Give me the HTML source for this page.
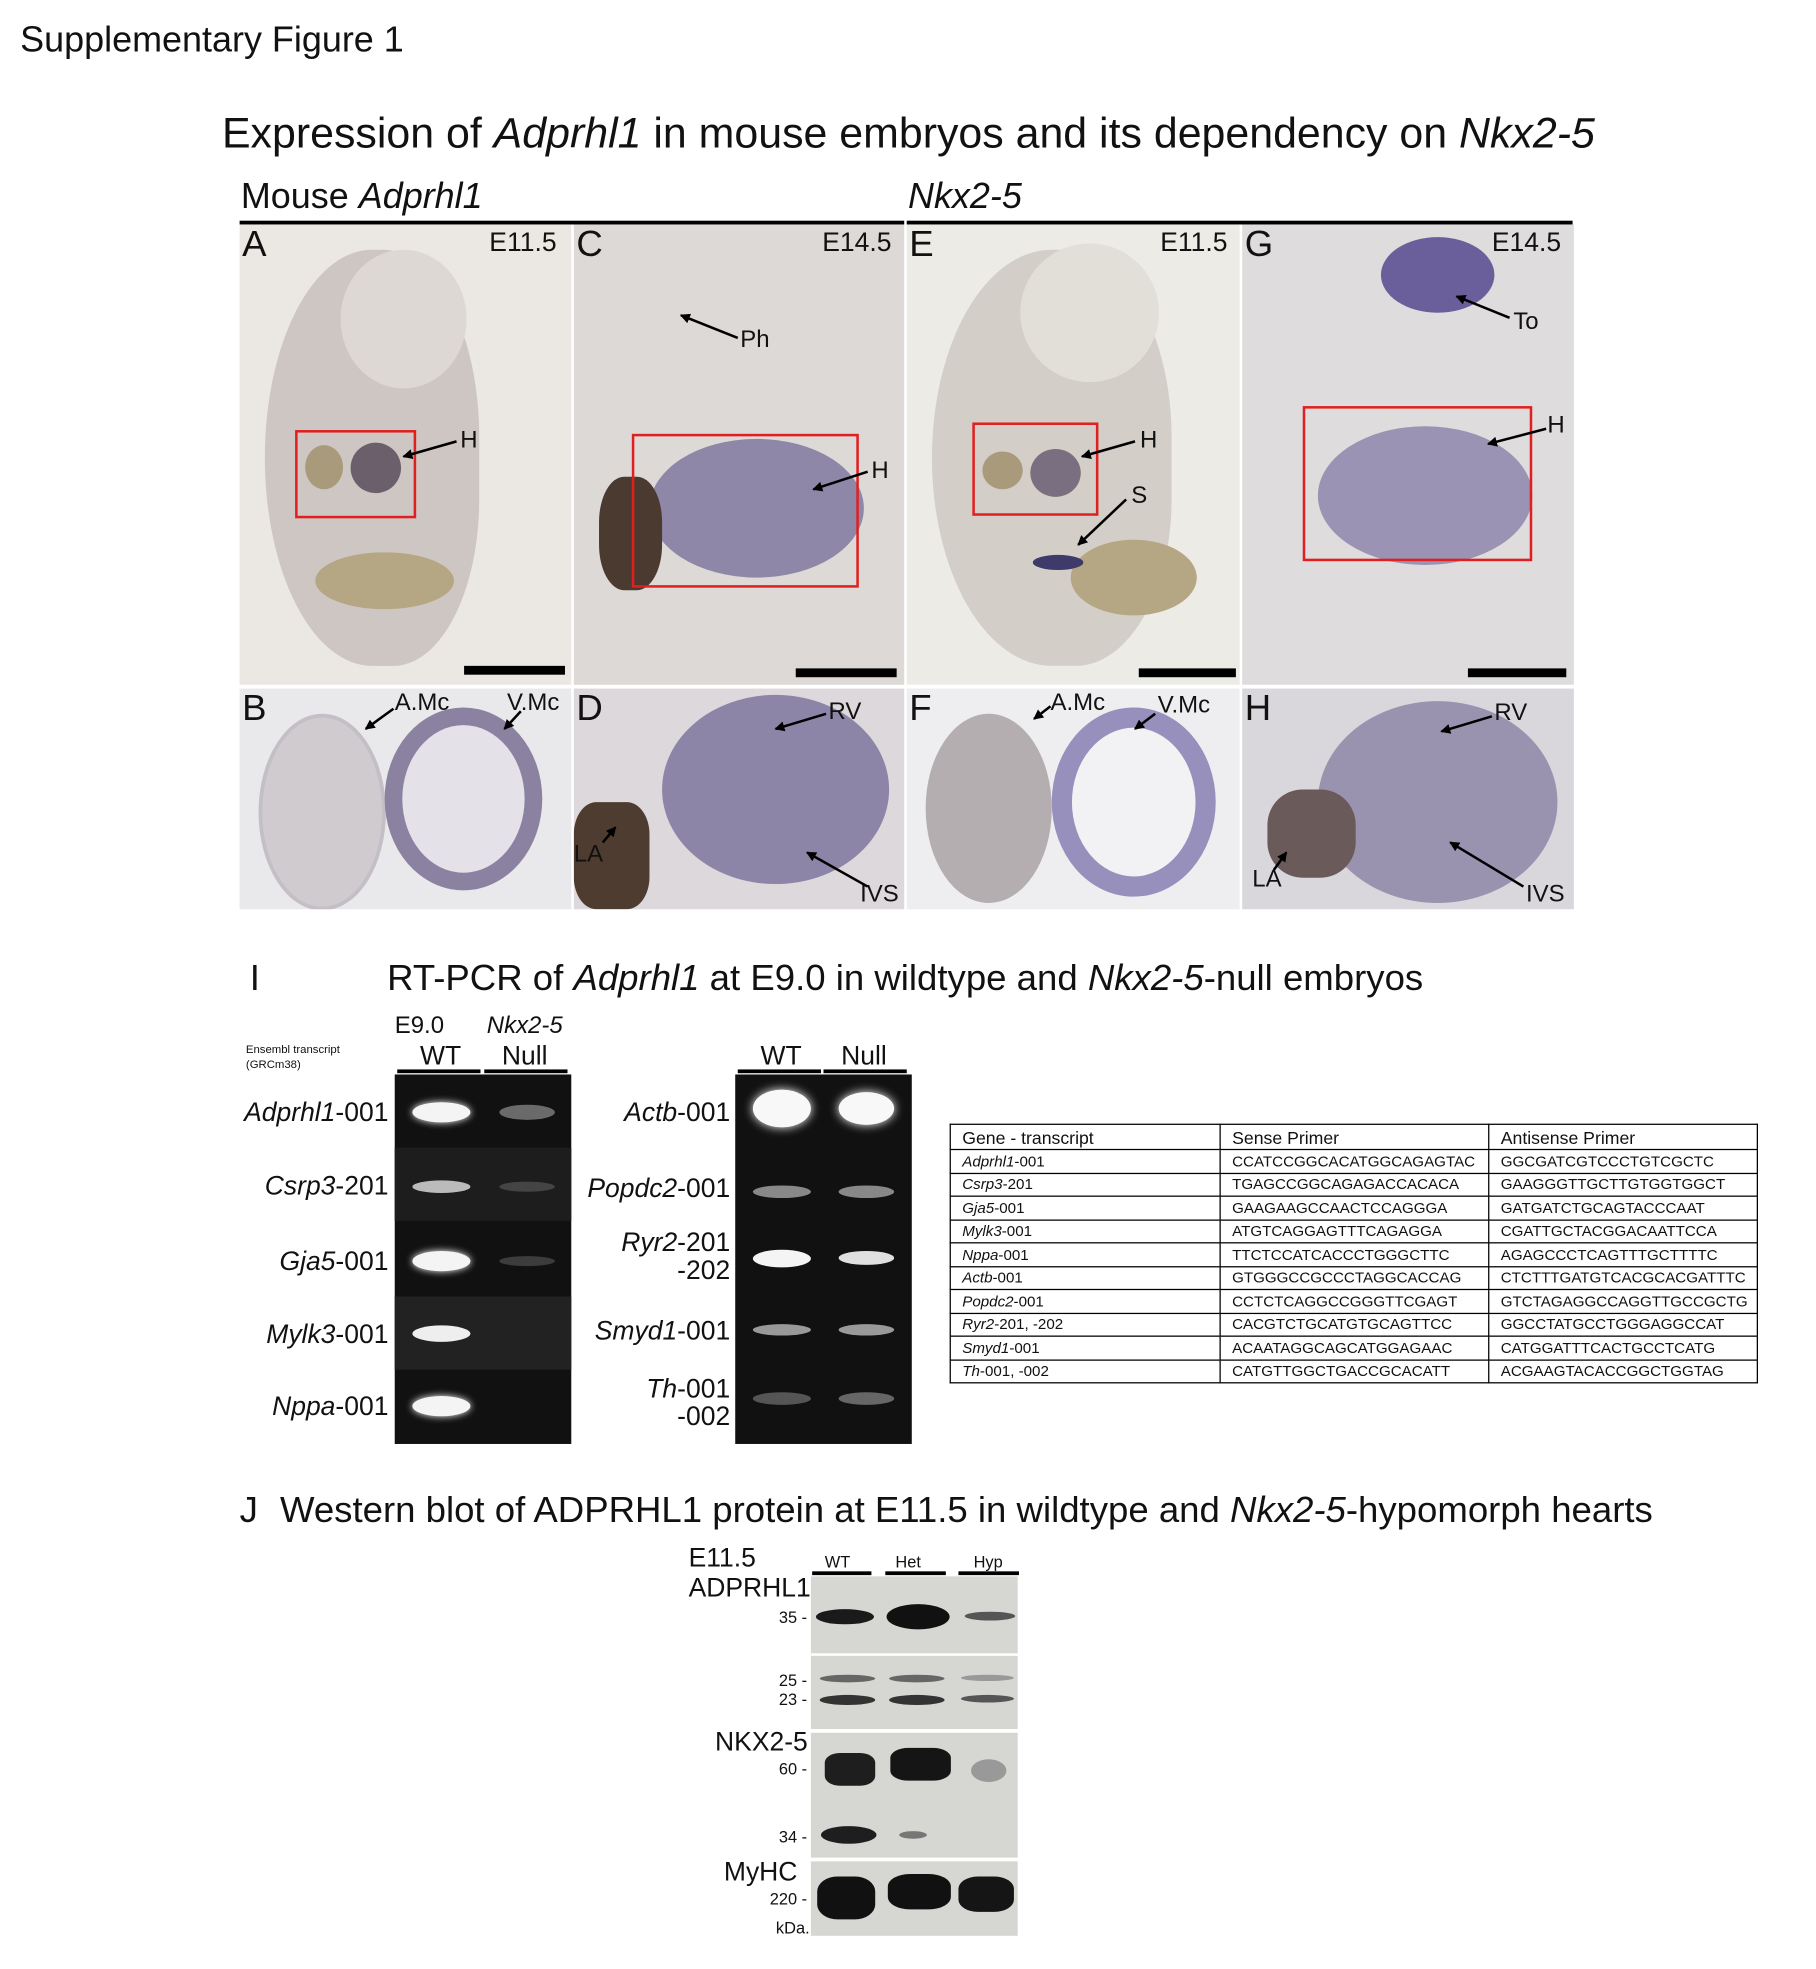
<!DOCTYPE html>
<html><head><meta charset="utf-8">
<style>
html,body{margin:0;padding:0;background:#fff;}
body{width:1816px;height:1968px;overflow:hidden;position:relative;}
#s{position:absolute;left:0;top:0;width:1440px;height:1561px;transform:scale(1.26111);transform-origin:0 0;font-family:"Liberation Sans",sans-serif;color:#111;}
.a{position:absolute;white-space:nowrap;}
.p{position:absolute;overflow:hidden;}
.lbl{position:absolute;font-size:29px;line-height:1;}
.stg{position:absolute;font-size:21px;line-height:1;}
.rb{position:absolute;border:2px solid #e02020;}
.band{position:absolute;border-radius:50%;}
.gl{position:absolute;font-size:21px;text-align:right;line-height:22px;}
table{border-collapse:collapse;}
td{border:1.5px solid #000;padding:0 0 0 9px;height:17.5px;font-size:12px;line-height:14px;font-family:"Liberation Sans Narrow","Liberation Sans",sans-serif;}
tr:first-child td{font-size:14px;height:19px;}
.wb{position:absolute;left:643px;width:164px;background:#d6d6d2;}
.kd{position:absolute;font-size:13px;text-align:right;width:60px;}
</style></head><body><div id="s">
<div class="a" style="left:16px;top:16px;font-size:28.5px;">Supplementary Figure 1</div>
<div class="a" style="left:176px;top:87px;font-size:34px;">Expression of <i>Adprhl1</i> in mouse embryos and its dependency on <i>Nkx2-5</i></div>
<div class="a" style="left:191px;top:140px;font-size:28.5px;">Mouse <i>Adprhl1</i></div>
<div class="a" style="left:720px;top:140px;font-size:28.5px;"><i>Nkx2-5</i></div>
<div class="a" style="left:190px;top:175px;width:527px;height:3px;background:#000"></div>
<div class="a" style="left:719px;top:175px;width:528px;height:3px;background:#000"></div>

<!-- top panels -->
<div class="p" style="left:190px;top:178px;width:263px;height:365px;background:#ebe8e3;">
 <div class="a" style="left:20px;top:20px;width:170px;height:330px;border-radius:50% 45% 40% 50%;background:#cdc6c2;"></div>
 <div class="a" style="left:80px;top:20px;width:100px;height:110px;border-radius:50%;background:#ddd8d3;"></div>
 <div class="a" style="left:60px;top:260px;width:110px;height:45px;border-radius:50%;background:#b5a684;"></div>
 <div class="a" style="left:52px;top:175px;width:30px;height:35px;border-radius:50%;background:#a89a7a;"></div>
 <div class="a" style="left:88px;top:173px;width:40px;height:40px;border-radius:50%;background:#6c5f6c;"></div>
 <div class="rb" style="left:44px;top:163px;width:92px;height:66px;"></div>
</div>
<div class="p" style="left:455px;top:178px;width:262px;height:365px;background:#ddd9d6;">
 <div class="a" style="left:60px;top:170px;width:170px;height:110px;border-radius:50%;background:#8e87a8;"></div>
 <div class="a" style="left:20px;top:200px;width:50px;height:90px;border-radius:40%;background:#4a3a30;"></div>
 <div class="rb" style="left:46px;top:166px;width:176px;height:118px;"></div>
</div>
<div class="p" style="left:719px;top:178px;width:264px;height:365px;background:#ecebe6;">
 <div class="a" style="left:20px;top:20px;width:190px;height:330px;border-radius:50% 45% 40% 50%;background:#d3cec8;"></div>
 <div class="a" style="left:90px;top:15px;width:110px;height:110px;border-radius:50%;background:#e2dfd9;"></div>
 <div class="a" style="left:130px;top:250px;width:100px;height:60px;border-radius:50%;background:#b5a684;"></div>
 <div class="a" style="left:60px;top:180px;width:32px;height:30px;border-radius:50%;background:#a89a7a;"></div>
 <div class="a" style="left:98px;top:178px;width:40px;height:38px;border-radius:50%;background:#7a6f80;"></div>
 <div class="a" style="left:100px;top:262px;width:40px;height:12px;border-radius:50%;background:#3e3a6a;"></div>
 <div class="rb" style="left:52px;top:157px;width:96px;height:70px;"></div>
</div>
<div class="p" style="left:985px;top:178px;width:263px;height:365px;background:#dedcdc;">
 <div class="a" style="left:110px;top:10px;width:90px;height:60px;border-radius:50%;background:#6a5f9a;"></div>
 <div class="a" style="left:60px;top:160px;width:170px;height:110px;border-radius:50%;background:#9a93b4;"></div>
 <div class="rb" style="left:48px;top:144px;width:178px;height:119px;"></div>
</div>
<div class="lbl" style="left:192px;top:180px;">A</div><div class="stg" style="left:388px;top:182px;">E11.5</div>
<div class="lbl" style="left:457px;top:180px;">C</div><div class="stg" style="left:652px;top:182px;">E14.5</div>
<div class="lbl" style="left:721px;top:180px;">E</div><div class="stg" style="left:920px;top:182px;">E11.5</div>
<div class="lbl" style="left:987px;top:180px;">G</div><div class="stg" style="left:1183px;top:182px;">E14.5</div>
<div class="a" style="left:368px;top:528px;width:80px;height:7px;background:#000"></div>
<div class="a" style="left:631px;top:530px;width:80px;height:7px;background:#000"></div>
<div class="a" style="left:903px;top:530px;width:77px;height:7px;background:#000"></div>
<div class="a" style="left:1164px;top:530px;width:78px;height:7px;background:#000"></div>
<div class="stg" style="left:365px;top:340px;font-size:19px">H</div>
<div class="stg" style="left:587px;top:260px;font-size:19px">Ph</div>
<div class="stg" style="left:691px;top:364px;font-size:19px">H</div>
<div class="stg" style="left:904px;top:340px;font-size:19px">H</div>
<div class="stg" style="left:897px;top:384px;font-size:19px">S</div>
<div class="stg" style="left:1200px;top:246px;font-size:19px">To</div>
<div class="stg" style="left:1227px;top:328px;font-size:19px">H</div>

<!-- bottom panels -->
<div class="p" style="left:190px;top:546px;width:263px;height:175px;background:#e9e8ea;">
 <div class="a" style="left:15px;top:20px;width:95px;height:150px;border-radius:50%;border:3px solid #c4bfc6;background:#cfcbcf;"></div>
 <div class="a" style="left:115px;top:15px;width:125px;height:145px;border-radius:50%;border:14px solid #8b82a2;background:#e4e2e8;box-sizing:border-box;"></div>
</div>
<div class="p" style="left:455px;top:546px;width:262px;height:175px;background:#dcd8db;">
 <div class="a" style="left:70px;top:5px;width:180px;height:150px;border-radius:50%;background:#8c85a8;"></div>
 <div class="a" style="left:0px;top:90px;width:60px;height:85px;border-radius:30%;background:#4e3c30;"></div>
</div>
<div class="p" style="left:719px;top:546px;width:264px;height:175px;background:#eeedf0;">
 <div class="a" style="left:15px;top:20px;width:100px;height:150px;border-radius:50%;background:#b5aeb0;"></div>
 <div class="a" style="left:115px;top:15px;width:130px;height:150px;border-radius:50%;border:16px solid #9790bc;background:#f2f1f4;box-sizing:border-box;"></div>
</div>
<div class="p" style="left:985px;top:546px;width:263px;height:175px;background:#d9d7dc;">
 <div class="a" style="left:60px;top:10px;width:190px;height:160px;border-radius:50%;background:#9a93b0;"></div>
 <div class="a" style="left:20px;top:80px;width:70px;height:70px;border-radius:40%;background:#6a5a5a;"></div>
</div>
<div class="lbl" style="left:192px;top:548px;">B</div>
<div class="lbl" style="left:457px;top:548px;">D</div>
<div class="lbl" style="left:721px;top:548px;">F</div>
<div class="lbl" style="left:987px;top:548px;">H</div>
<div class="stg" style="left:313px;top:548px;font-size:19px">A.Mc</div>
<div class="stg" style="left:402px;top:548px;font-size:19px">V.Mc</div>
<div class="stg" style="left:657px;top:555px;font-size:19px">RV</div>
<div class="stg" style="left:455px;top:668px;font-size:19px">LA</div>
<div class="stg" style="left:682px;top:700px;font-size:19px">IVS</div>
<div class="stg" style="left:833px;top:548px;font-size:19px">A.Mc</div>
<div class="stg" style="left:918px;top:550px;font-size:19px">V.Mc</div>
<div class="stg" style="left:1185px;top:556px;font-size:19px">RV</div>
<div class="stg" style="left:993px;top:688px;font-size:19px">LA</div>
<div class="stg" style="left:1210px;top:700px;font-size:19px">IVS</div>

<svg class="a" style="left:0;top:0" width="1440" height="740">
<defs><marker id="m" markerWidth="8" markerHeight="8" refX="7" refY="4" orient="auto" markerUnits="userSpaceOnUse"><path d="M0,0 L8,4 L0,8 Z" fill="#000"/></marker></defs>
<g stroke="#000" stroke-width="2" marker-end="url(#m)">
<line x1="362" y1="350" x2="320" y2="362"/>
<line x1="585" y1="268" x2="540" y2="250"/>
<line x1="688" y1="374" x2="645" y2="388"/>
<line x1="900" y1="350" x2="858" y2="362"/>
<line x1="893" y1="396" x2="855" y2="432"/>
<line x1="1197" y1="252" x2="1155" y2="235"/>
<line x1="1226" y1="340" x2="1180" y2="352"/>
<line x1="312" y1="562" x2="290" y2="578"/>
<line x1="413" y1="564" x2="400" y2="578"/>
<line x1="655" y1="566" x2="615" y2="578"/>
<line x1="478" y1="668" x2="488" y2="656"/>
<line x1="688" y1="703" x2="640" y2="676"/>
<line x1="833" y1="560" x2="820" y2="570"/>
<line x1="916" y1="566" x2="900" y2="578"/>
<line x1="1183" y1="568" x2="1143" y2="580"/>
<line x1="1010" y1="690" x2="1020" y2="676"/>
<line x1="1208" y1="703" x2="1150" y2="668"/>
</g></svg>

<!-- I -->
<div class="a" style="left:198px;top:760px;font-size:29px;">I</div>
<div class="a" style="left:307px;top:760px;font-size:29px;">RT-PCR of <i>Adprhl1</i> at E9.0 in wildtype and <i>Nkx2-5</i>-null embryos</div>
<div class="a" style="left:195px;top:826px;font-size:9px;line-height:12px;">Ensembl transcript<br>(GRCm38)</div>
<div class="a" style="left:313px;top:803px;font-size:19px;">E9.0</div>
<div class="a" style="left:386px;top:803px;font-size:19px;"><i>Nkx2-5</i></div>
<div class="a" style="left:333px;top:826px;font-size:21px;">WT</div>
<div class="a" style="left:398px;top:826px;font-size:21px;">Null</div>
<div class="a" style="left:315px;top:848px;width:66px;height:3px;background:#000"></div>
<div class="a" style="left:384px;top:848px;width:66px;height:3px;background:#000"></div>
<div class="a" style="left:603px;top:826px;font-size:21px;">WT</div>
<div class="a" style="left:667px;top:826px;font-size:21px;">Null</div>
<div class="a" style="left:585px;top:848px;width:66px;height:3px;background:#000"></div>
<div class="a" style="left:653px;top:848px;width:66px;height:3px;background:#000"></div>

<div class="a" style="left:313px;top:852px;width:140px;height:293px;background:#111;"></div>
<div class="a" style="left:313px;top:910px;width:140px;height:58px;background:#1d1d1d;"></div>
<div class="a" style="left:313px;top:1028px;width:140px;height:58px;background:#222;"></div>
<div class="band" style="left:327px;top:874px;width:46px;height:16px;background:#f4f4f4;box-shadow:0 0 6px #fff"></div>
<div class="band" style="left:396px;top:876px;width:44px;height:12px;background:#6a6a6a;"></div>
<div class="band" style="left:327px;top:936px;width:46px;height:10px;background:#bbb;"></div>
<div class="band" style="left:396px;top:937px;width:44px;height:8px;background:#444;"></div>
<div class="band" style="left:327px;top:992px;width:46px;height:16px;background:#f4f4f4;box-shadow:0 0 6px #fff"></div>
<div class="band" style="left:396px;top:996px;width:44px;height:8px;background:#3c3c3c;"></div>
<div class="band" style="left:327px;top:1051px;width:46px;height:13px;background:#eee;"></div>
<div class="band" style="left:327px;top:1107px;width:46px;height:16px;background:#f4f4f4;box-shadow:0 0 6px #fff"></div>
<div class="gl" style="left:150px;width:158px;top:872px;"><i>Adprhl1</i>-001</div>
<div class="gl" style="left:150px;width:158px;top:930px;"><i>Csrp3</i>-201</div>
<div class="gl" style="left:150px;width:158px;top:990px;"><i>Gja5</i>-001</div>
<div class="gl" style="left:150px;width:158px;top:1048px;"><i>Mylk3</i>-001</div>
<div class="gl" style="left:150px;width:158px;top:1105px;"><i>Nppa</i>-001</div>

<div class="a" style="left:583px;top:852px;width:140px;height:293px;background:#111;"></div>
<div class="band" style="left:597px;top:864px;width:46px;height:30px;background:#f8f8f8;box-shadow:0 0 8px #fff"></div>
<div class="band" style="left:665px;top:866px;width:44px;height:26px;background:#f8f8f8;box-shadow:0 0 8px #fff"></div>
<div class="band" style="left:597px;top:940px;width:46px;height:10px;background:#888;"></div>
<div class="band" style="left:665px;top:940px;width:44px;height:10px;background:#888;"></div>
<div class="band" style="left:597px;top:991px;width:46px;height:14px;background:#f4f4f4;"></div>
<div class="band" style="left:665px;top:992px;width:44px;height:11px;background:#e0e0e0;"></div>
<div class="band" style="left:597px;top:1050px;width:46px;height:9px;background:#999;"></div>
<div class="band" style="left:665px;top:1050px;width:44px;height:9px;background:#999;"></div>
<div class="band" style="left:597px;top:1104px;width:46px;height:10px;background:#555;"></div>
<div class="band" style="left:665px;top:1104px;width:44px;height:10px;background:#666;"></div>
<div class="gl" style="left:430px;width:149px;top:872px;"><i>Actb</i>-001</div>
<div class="gl" style="left:430px;width:149px;top:932px;"><i>Popdc2</i>-001</div>
<div class="gl" style="left:430px;width:149px;top:975px;"><i>Ryr2</i>-201<br>-202</div>
<div class="gl" style="left:430px;width:149px;top:1045px;"><i>Smyd1</i>-001</div>
<div class="gl" style="left:430px;width:149px;top:1091px;"><i>Th</i>-001<br>-002</div>

<table class="a" style="left:753px;top:891px;width:641px;">
<tr><td style="width:204px">Gene - transcript</td><td style="width:203px">Sense Primer</td><td>Antisense Primer</td></tr>
<tr><td><i>Adprhl1</i>-001</td><td>CCATCCGGCACATGGCAGAGTAC</td><td>GGCGATCGTCCCTGTCGCTC</td></tr>
<tr><td><i>Csrp3</i>-201</td><td>TGAGCCGGCAGAGACCACACA</td><td>GAAGGGTTGCTTGTGGTGGCT</td></tr>
<tr><td><i>Gja5</i>-001</td><td>GAAGAAGCCAACTCCAGGGA</td><td>GATGATCTGCAGTACCCAAT</td></tr>
<tr><td><i>Mylk3</i>-001</td><td>ATGTCAGGAGTTTCAGAGGA</td><td>CGATTGCTACGGACAATTCCA</td></tr>
<tr><td><i>Nppa</i>-001</td><td>TTCTCCATCACCCTGGGCTTC</td><td>AGAGCCCTCAGTTTGCTTTTC</td></tr>
<tr><td><i>Actb</i>-001</td><td>GTGGGCCGCCCTAGGCACCAG</td><td>CTCTTTGATGTCACGCACGATTTC</td></tr>
<tr><td><i>Popdc2</i>-001</td><td>CCTCTCAGGCCGGGTTCGAGT</td><td>GTCTAGAGGCCAGGTTGCCGCTG</td></tr>
<tr><td><i>Ryr2</i>-201, -202</td><td>CACGTCTGCATGTGCAGTTCC</td><td>GGCCTATGCCTGGGAGGCCAT</td></tr>
<tr><td><i>Smyd1</i>-001</td><td>ACAATAGGCAGCATGGAGAAC</td><td>CATGGATTTCACTGCCTCATG</td></tr>
<tr><td><i>Th</i>-001, -002</td><td>CATGTTGGCTGACCGCACATT</td><td>ACGAAGTACACCGGCTGGTAG</td></tr>
</table>

<!-- J -->
<div class="a" style="left:190px;top:1182px;font-size:29px;">J</div>
<div class="a" style="left:222px;top:1182px;font-size:29px;">Western blot of ADPRHL1 protein at E11.5 in wildtype and <i>Nkx2-5</i>-hypomorph hearts</div>
<div class="a" style="left:546px;top:1224px;font-size:21px;">E11.5</div>
<div class="a" style="left:546px;top:1248px;font-size:21px;">ADPRHL1</div>
<div class="a" style="left:654px;top:1231px;font-size:13px;">WT</div>
<div class="a" style="left:710px;top:1231px;font-size:13px;">Het</div>
<div class="a" style="left:772px;top:1231px;font-size:13px;">Hyp</div>
<div class="a" style="left:644px;top:1246px;width:47px;height:3px;background:#000"></div>
<div class="a" style="left:702px;top:1246px;width:48px;height:3px;background:#000"></div>
<div class="a" style="left:760px;top:1246px;width:48px;height:3px;background:#000"></div>
<div class="wb" style="top:1250px;height:61px;"></div>
<div class="wb" style="top:1313px;height:58px;"></div>
<div class="wb" style="top:1374px;height:99px;"></div>
<div class="wb" style="top:1476px;height:59px;"></div>
<div class="band" style="left:647px;top:1276px;width:46px;height:12px;background:#1a1a1a;"></div>
<div class="band" style="left:703px;top:1272px;width:50px;height:20px;background:#111;"></div>
<div class="band" style="left:765px;top:1278px;width:40px;height:7px;background:#555;"></div>
<div class="band" style="left:650px;top:1328px;width:44px;height:6px;background:#666;"></div>
<div class="band" style="left:705px;top:1328px;width:44px;height:6px;background:#666;"></div>
<div class="band" style="left:762px;top:1328px;width:42px;height:5px;background:#999;"></div>
<div class="band" style="left:650px;top:1344px;width:44px;height:8px;background:#333;"></div>
<div class="band" style="left:705px;top:1344px;width:44px;height:8px;background:#333;"></div>
<div class="band" style="left:762px;top:1344px;width:42px;height:6px;background:#555;"></div>
<div class="band" style="left:654px;top:1390px;width:40px;height:26px;background:#1e1e1e;border-radius:30%"></div>
<div class="band" style="left:706px;top:1386px;width:48px;height:26px;background:#151515;border-radius:30%"></div>
<div class="band" style="left:770px;top:1395px;width:28px;height:18px;background:#999;"></div>
<div class="band" style="left:651px;top:1448px;width:44px;height:14px;background:#1e1e1e;"></div>
<div class="band" style="left:713px;top:1452px;width:22px;height:6px;background:#777;"></div>
<div class="band" style="left:648px;top:1488px;width:46px;height:34px;background:#111;border-radius:35%"></div>
<div class="band" style="left:704px;top:1486px;width:50px;height:28px;background:#111;border-radius:35%"></div>
<div class="band" style="left:760px;top:1488px;width:44px;height:28px;background:#151515;border-radius:35%"></div>
<div class="a" style="left:567px;top:1370px;font-size:21px;">NKX2-5</div>
<div class="a" style="left:574px;top:1473px;font-size:21px;">MyHC</div>
<div class="kd" style="left:580px;top:1275px;">35 -</div>
<div class="kd" style="left:580px;top:1325px;">25 -</div>
<div class="kd" style="left:580px;top:1340px;">23 -</div>
<div class="kd" style="left:580px;top:1395px;">60 -</div>
<div class="kd" style="left:580px;top:1449px;">34 -</div>
<div class="kd" style="left:580px;top:1498px;">220 -</div>
<div class="kd" style="left:582px;top:1521px;">kDa.</div>
</div></body></html>
